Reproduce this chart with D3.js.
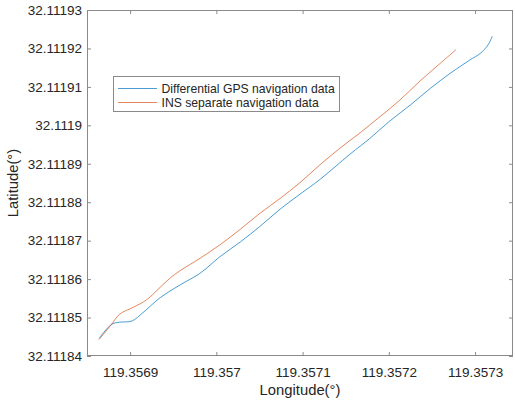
<!DOCTYPE html>
<html>
<head>
<meta charset="utf-8">
<script src="https://cdn.jsdelivr.net/npm/d3@7/dist/d3.min.js"></script>
<style>
  body { margin: 0; background: #fff; }
  svg { font-family: "Liberation Sans", Arial, sans-serif; }
</style>
</head>
<body>
<svg id="chart" width="515" height="405"></svg>
<script>
// differential GPS track
const gpsLon = [119.356864, 119.356879, 119.356888, 119.356902, 119.356915, 119.356935,
  119.356958, 119.356981, 119.357004, 119.357028, 119.357051, 119.357074, 119.357097,
  119.357120, 119.357155, 119.357178, 119.357201, 119.357225, 119.357248, 119.357271,
  119.357294, 119.357306, 119.357315, 119.357320];
const gpsLat = [32.1118446, 32.1118483, 32.1118488, 32.1118491, 32.1118513, 32.1118552,
  32.1118585, 32.1118615, 32.1118658, 32.1118697, 32.1118738, 32.1118782, 32.1118821,
  32.1118859, 32.1118925, 32.1118966, 32.1119011, 32.1119053, 32.1119096, 32.1119135,
  32.1119170, 32.1119187, 32.1119209, 32.1119232];

// INS-only track
const insLon = [119.356864, 119.356878, 119.356888, 119.356904, 119.356919, 119.356935,
  119.356946, 119.356958, 119.356981, 119.357004, 119.357028, 119.357051, 119.357074,
  119.357097, 119.357120, 119.357143, 119.357167, 119.357190, 119.357213, 119.357236,
  119.357259, 119.357278];
const insLat = [32.1118443, 32.1118481, 32.1118509, 32.1118527, 32.1118546, 32.1118579,
  32.1118602, 32.1118622, 32.1118654, 32.1118689, 32.1118730, 32.1118772, 32.1118810,
  32.1118851, 32.1118897, 32.1118940, 32.1118981, 32.1119023, 32.1119066, 32.1119115,
  32.1119160, 32.1119197];

const xTicks = [119.3569, 119.357, 119.3571, 119.3572, 119.3573];
const xTickLabels = ['119.3569', '119.357', '119.3571', '119.3572', '119.3573'];
const yTicks = [32.11184, 32.11185, 32.11186, 32.11187, 32.11188, 32.11189, 32.1119,
  32.11191, 32.11192, 32.11193];
const yTickLabels = ['32.11184', '32.11185', '32.11186', '32.11187', '32.11188', '32.11189',
  '32.1119', '32.11191', '32.11192', '32.11193'];

const seriesNames = ['Differential GPS navigation data', 'INS separate navigation data'];
const colors = ['#0072BD', '#D95319'];

const plotL = 87, plotR = 513, plotT = 10, plotB = 356;
const svg = d3.select('#chart');

const x = d3.scaleLinear().domain([119.35685, 119.357344]).range([plotL, plotR]);
const y = d3.scaleLinear().domain([32.11184, 32.11193]).range([plotB, plotT]);

const axisColor = '#8a8a8a';
const textColor = '#262626';

function styleAxis(g) {
  g.select('.domain').remove();
  g.selectAll('.tick line').attr('stroke', axisColor);
  g.selectAll('.tick text').attr('fill', textColor).style('font-size', '13.5px');
}

svg.append('g')
  .attr('transform', `translate(0,${plotB})`)
  .call(d3.axisBottom(x).tickValues(xTicks).tickFormat((d, i) => xTickLabels[i])
    .tickSize(-4).tickPadding(11))
  .call(styleAxis);

svg.append('g')
  .attr('transform', `translate(0,${plotT})`)
  .call(d3.axisTop(x).tickValues(xTicks).tickFormat('').tickSize(-4))
  .call(styleAxis);

svg.append('g')
  .attr('transform', `translate(${plotL},0)`)
  .call(d3.axisLeft(y).tickValues(yTicks).tickFormat((d, i) => yTickLabels[i])
    .tickSize(-4).tickPadding(5))
  .call(styleAxis);

svg.append('g')
  .attr('transform', `translate(${plotR},0)`)
  .call(d3.axisRight(y).tickValues(yTicks).tickFormat('').tickSize(-4))
  .call(styleAxis);

svg.append('rect')
  .attr('x', plotL + 0.5).attr('y', plotT + 0.5)
  .attr('width', plotR - plotL - 1).attr('height', plotB - plotT - 1)
  .attr('fill', 'none').attr('stroke', axisColor);

const line = d3.line()
  .x(d => x(d[0]))
  .y(d => y(d[1]))
  .curve(d3.curveCatmullRom.alpha(0.5));

const tracks = [
  d3.zip(gpsLon, gpsLat),
  d3.zip(insLon, insLat)
];

svg.selectAll('.track')
  .data(tracks)
  .enter()
  .append('path')
  .classed('track', true)
  .attr('d', line)
  .attr('fill', 'none')
  .attr('stroke', (d, i) => colors[i])
  .attr('stroke-opacity', 0.7)
  .attr('stroke-width', 1);

// legend
const legend = svg.append('g');
legend.append('rect')
  .attr('x', 113.5).attr('y', 76.5)
  .attr('width', 226).attr('height', 35)
  .attr('fill', '#fff').attr('stroke', axisColor);

const item = legend.selectAll('.item')
  .data(seriesNames)
  .enter()
  .append('g')
  .attr('transform', (d, i) => `translate(0,${88.5 + i * 14})`);

item.append('line')
  .attr('x1', 118).attr('x2', 157)
  .attr('stroke', (d, i) => colors[i])
  .attr('stroke-opacity', 0.7);

item.append('text')
  .attr('x', 161.5)
  .attr('dy', '0.35em')
  .attr('fill', textColor)
  .style('font-size', '12.2px')
  .text(d => d);

svg.append('text')
  .attr('x', (plotL + plotR) / 2)
  .attr('y', 394.5)
  .attr('text-anchor', 'middle')
  .attr('fill', textColor)
  .style('font-size', '14.8px')
  .text('Longitude(°)');

svg.append('text')
  .attr('transform', `translate(18,${(plotT + plotB) / 2}) rotate(-90)`)
  .attr('text-anchor', 'middle')
  .attr('fill', textColor)
  .style('font-size', '14.8px')
  .text('Latitude(°)');
</script>
</body>
</html>
